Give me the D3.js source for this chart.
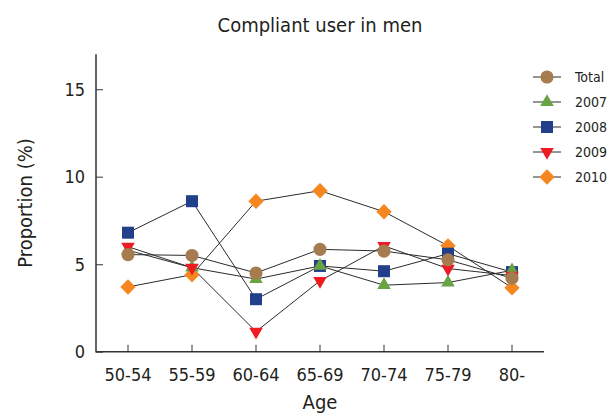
<!DOCTYPE html>
<html>
<head>
<meta charset="utf-8">
<script src="https://cdn.jsdelivr.net/npm/d3@7"></script>
<style>
  body { margin: 0; background: #fff; }
  text { font-family: "DejaVu Sans Condensed", "DejaVu Sans", sans-serif; font-stretch: condensed; fill: #231f20; }
</style>
</head>
<body>
<div id="chart"></div>
<script>
// Chart size and margins
const width = 609;
const height = 414;
const margin = { left: 96, right: 65, top: 55, bottom: 62 };

// Data
const ages = ["50-54", "55-59", "60-64", "65-69", "70-74", "75-79", "80-"];
const seriesNames = ["Total", "2007", "2008", "2009", "2010"];
const total = [5.55, 5.5, 4.5, 5.85, 5.75, 5.25, 4.2];
const y2007 = [5.8, 4.8, 4.15, 4.9, 3.8, 3.95, 4.65];
const y2008 = [6.8, 8.6, 3.0, 4.9, 4.6, 5.6, 4.55];
const y2009 = [6.0, 4.8, 1.15, 4.05, 6.05, 4.75, 4.35];
const y2010 = [3.7, 4.4, 8.6, 9.2, 8.0, 6.05, 3.65];
const yTicks = [0, 5, 10, 15];

const colors = ["#a67b50", "#68a443", "#213f8b", "#ed1c24", "#f6861f"];

const series = [
  { name: "Total", values: total, shape: "circle" },
  { name: "2007", values: y2007, shape: "up" },
  { name: "2008", values: y2008, shape: "square" },
  { name: "2009", values: y2009, shape: "down" },
  { name: "2010", values: y2010, shape: "diamond" }
];
series.forEach((s, i) => s.color = colors[i]);

const svg = d3.select("#chart")
  .append("svg")
  .attr("width", width)
  .attr("height", height);

// Scales
const x = d3.scaleBand()
  .domain(ages)
  .range([margin.left, 544])
  .padding(0);

const y = d3.scaleLinear()
  .domain([0, 17])
  .range([351.7, 351.7 - 17 * 17.5]);

// Marker shapes
function symbolPath(shape) {
  if (shape === "circle") return d3.symbol(d3.symbolCircle, 135)();
  if (shape === "square") return d3.symbol(d3.symbolSquare, 144)();
  if (shape === "diamond") return d3.symbol(d3.symbolSquare, 118)();
  return d3.symbol(d3.symbolTriangle, 80)();
}
function symbolRotate(shape) {
  if (shape === "diamond") return 45;
  if (shape === "down") return 180;
  return 0;
}

// Axes
const yAxis = svg.append("g")
  .attr("transform", `translate(${margin.left},0)`)
  .call(d3.axisRight(y).tickValues(yTicks).tickSize(7).tickFormat(""));
yAxis.select(".domain").remove();
yAxis.selectAll(".tick line").attr("stroke", "#555").attr("stroke-width", 1.2);

const xAxis = svg.append("g")
  .attr("transform", `translate(0,${y(0)})`)
  .call(d3.axisTop(x).tickSize(7).tickFormat(""));
xAxis.select(".domain").remove();
xAxis.selectAll(".tick line").attr("stroke", "#555").attr("stroke-width", 1.2);

// Axis lines
svg.append("path")
  .attr("d", `M${margin.left},${y(17)}V${y(0)}H544`)
  .attr("fill", "none")
  .attr("stroke", "#333")
  .attr("stroke-width", 1.5);

// Tick labels
svg.selectAll(".ylab")
  .data(yTicks)
  .enter()
  .append("text")
  .attr("x", 85)
  .attr("y", d => y(d))
  .attr("dy", "0.36em")
  .attr("text-anchor", "end")
  .attr("font-size", 18)
  .text(d => d);

svg.selectAll(".xlab")
  .data(ages)
  .enter()
  .append("text")
  .attr("x", d => x(d) + x.bandwidth() / 2)
  .attr("y", 375)
  .attr("dy", "0.36em")
  .attr("text-anchor", "middle")
  .attr("font-size", 18)
  .text(d => d);

// Titles
svg.append("text")
  .attr("x", 320)
  .attr("y", 25)
  .attr("dy", "0.36em")
  .attr("text-anchor", "middle")
  .attr("font-size", 20)
  .text("Compliant user in men");

svg.append("text")
  .attr("x", 320)
  .attr("y", 402)
  .attr("dy", "0.36em")
  .attr("text-anchor", "middle")
  .attr("font-size", 20)
  .text("Age");

svg.append("text")
  .attr("transform", "translate(25,203) rotate(-90)")
  .attr("dy", "0.36em")
  .attr("text-anchor", "middle")
  .attr("font-size", 20)
  .text("Proportion (%)");

// Lines
const line = d3.line()
  .x((d, i) => x(ages[i]) + x.bandwidth() / 2)
  .y(d => y(d));

svg.selectAll(".series-line")
  .data(series)
  .enter()
  .append("path")
  .attr("class", "series-line")
  .attr("d", d => line(d.values))
  .attr("fill", "none")
  .attr("stroke", "#2b2b2b")
  .attr("stroke-width", 1);

// Markers (2010, 2008, 2007, 2009, Total - so the hidden ones stay hidden)
const drawOrder = [4, 2, 1, 3, 0];
drawOrder.forEach(k => {
  const s = series[k];
  svg.selectAll(".m" + k)
    .data(s.values)
    .enter()
    .append("path")
    .attr("d", symbolPath(s.shape))
    .attr("transform", (d, i) => `translate(${x(ages[i]) + x.bandwidth() / 2},${y(d)}) rotate(${symbolRotate(s.shape)})`)
    .attr("fill", s.color);
});

// Legend
const legend = svg.selectAll(".legend")
  .data(series)
  .enter()
  .append("g")
  .attr("transform", (d, i) => `translate(0,${77 + i * 25})`);

legend.append("line")
  .attr("x1", 533)
  .attr("x2", 561)
  .attr("stroke", "#2b2b2b")
  .attr("stroke-width", 1);

legend.append("path")
  .attr("d", d => symbolPath(d.shape))
  .attr("transform", d => `translate(547,0) rotate(${symbolRotate(d.shape)})`)
  .attr("fill", d => d.color);

legend.append("text")
  .attr("x", 575)
  .attr("dy", "0.36em")
  .attr("font-size", 14)
  .text(d => d.name);
</script>
</body>
</html>
